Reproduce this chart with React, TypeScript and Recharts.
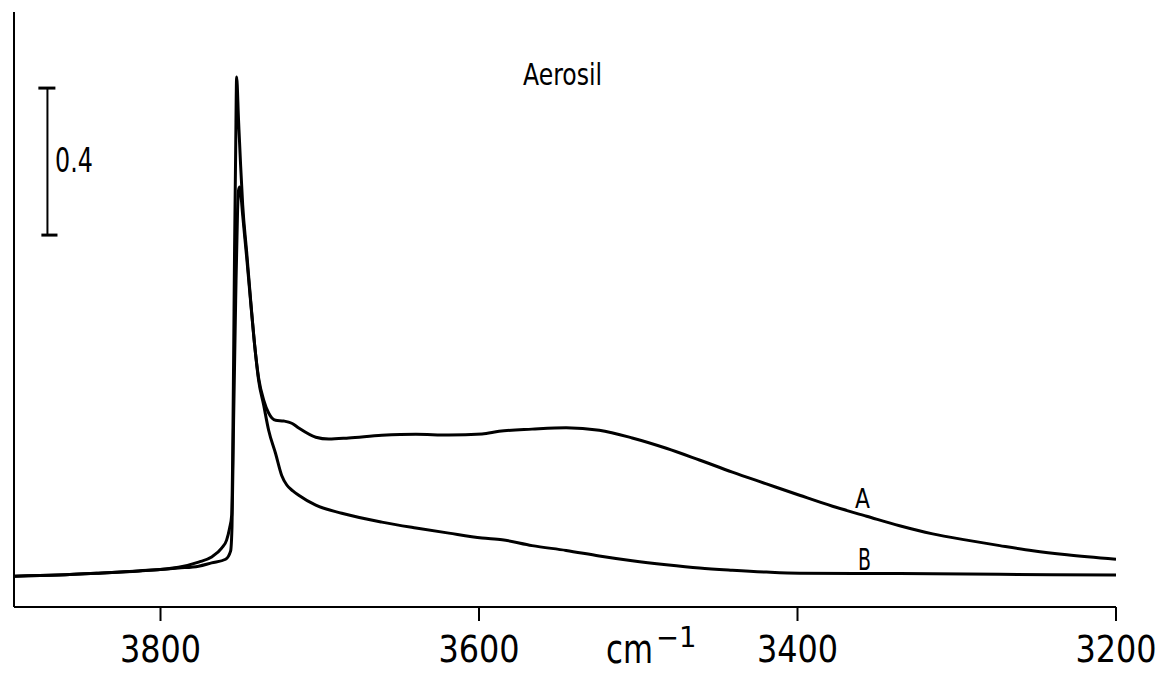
import { LineChart, Line, XAxis, YAxis, ReferenceLine } from 'recharts';

// wavenumber (cm-1) / absorbance readings, left to right
const wavenumbersA = [
  3891.8, 3864.2, 3839.0, 3813.8, 3788.7, 3776.1, 3767.9, 3761.6, 3758.5, 3756.6,
  3755.3, 3754.7, 3754.1, 3753.5, 3752.8, 3752.2, 3751.0, 3749.7, 3748.4, 3745.9,
  3743.4, 3740.9, 3738.4, 3735.2, 3732.1, 3727.7, 3722.6, 3717.6, 3713.2, 3702.5,
  3694.3, 3681.8, 3661.0, 3639.6, 3618.9, 3598.1, 3587.4, 3566.7, 3545.3, 3524.5,
  3503.8, 3482.4, 3461.6, 3440.9, 3419.5, 3398.7, 3378.0, 3356.6, 3335.9, 3315.1,
  3293.7, 3273.0, 3252.2, 3230.8, 3200.0,
];
const absorbanceA = [
  0.0, 0.003, 0.008, 0.014, 0.024, 0.038, 0.052, 0.076, 0.098, 0.131,
  0.166, 0.316, 0.588, 0.887, 1.159, 1.358, 1.241, 1.118, 1.01, 0.882,
  0.751, 0.629, 0.539, 0.479, 0.444, 0.424, 0.422, 0.416, 0.403, 0.378,
  0.373, 0.376, 0.383, 0.386, 0.384, 0.387, 0.394, 0.4, 0.404, 0.397,
  0.376, 0.348, 0.316, 0.283, 0.251, 0.22, 0.19, 0.163, 0.137, 0.115,
  0.098, 0.083, 0.069, 0.058, 0.046,
];

const wavenumbersB = [
  3891.8, 3864.2, 3839.0, 3813.8, 3788.7, 3776.1, 3767.9, 3759.1, 3756.0, 3755.1,
  3754.1, 3752.8, 3751.6, 3751.0, 3750.3, 3749.7, 3748.4, 3745.9, 3743.4, 3740.9,
  3738.4, 3735.2, 3732.1, 3727.7, 3723.9, 3720.7, 3716.9, 3713.2, 3702.5, 3686.2,
  3661.0, 3639.6, 3618.9, 3598.1, 3585.5, 3566.7, 3545.3, 3524.5, 3503.8, 3482.4,
  3461.6, 3440.9, 3419.5, 3398.7, 3335.9, 3273.0, 3200.0,
];
const absorbanceB = [
  0.0, 0.003, 0.008, 0.014, 0.022, 0.027, 0.036, 0.046, 0.068, 0.136,
  0.424, 0.751, 0.996, 1.05, 1.059, 1.045, 0.982, 0.868, 0.746, 0.629,
  0.533, 0.465, 0.397, 0.333, 0.274, 0.248, 0.232, 0.22, 0.193, 0.171,
  0.147, 0.131, 0.117, 0.104, 0.099, 0.083, 0.07, 0.055, 0.042, 0.031,
  0.022, 0.016, 0.011, 0.008, 0.007, 0.005, 0.003,
];

const xTicks = [3800, 3600, 3400, 3200];
const xDomain = [3200, 3892];
const yDomain = [-0.084, 1.535];

// 0.4 absorbance scale bar
const scaleBarX = 3871;
const scaleBarY = [0.928, 1.328];
const scaleCapTop = [3876.7, 3866.0];
const scaleCapBottom = [3874.8, 3864.7];

const FONT = '"DejaVu Sans", sans-serif';

const dataA = wavenumbersA.map((wn, i) => ({ wn, v: absorbanceA[i] }));
const dataB = wavenumbersB.map((wn, i) => ({ wn, v: absorbanceB[i] }));

// narrow plotter-style lettering: DejaVu squeezed horizontally
const Narrow = ({
  x,
  y,
  size,
  sx,
  anchor = 'start',
  children,
}: {
  x: number;
  y: number;
  size: number;
  sx: number;
  anchor?: 'start' | 'middle' | 'end';
  children: React.ReactNode;
}) => (
  <text
    transform={`translate(${x},${y}) scale(${sx},1)`}
    textAnchor={anchor}
    fontFamily={FONT}
    fontSize={size}
    fill="#000"
  >
    {children}
  </text>
);

const Tick = ({ x, y, payload }: { x: number; y: number; payload: { value: number } }) => (
  <Narrow x={x} y={y + 39} size={38} sx={0.84} anchor="middle">
    {payload.value}
  </Narrow>
);

export default function App() {
  return (
    <div style={{ position: 'absolute', left: 0, top: 0, width: 1161, height: 673, background: '#fff' }}>
      <LineChart width={1161} height={673} margin={{ top: 12, right: 45, bottom: 0, left: 14 }}>
        <XAxis
          type="number"
          dataKey="wn"
          domain={xDomain}
          reversed
          allowDataOverflow
          ticks={xTicks}
          tickSize={14}
          height={66}
          axisLine={{ stroke: '#000', strokeWidth: 2 }}
          tickLine={{ stroke: '#000', strokeWidth: 2 }}
          tick={Tick}
        />
        <YAxis type="number" domain={yDomain} allowDataOverflow hide />
        <ReferenceLine x={xDomain[1]} stroke="#000" strokeWidth={2} />
        <ReferenceLine
          segment={[{ x: scaleBarX, y: scaleBarY[0] }, { x: scaleBarX, y: scaleBarY[1] }]}
          stroke="#000"
          strokeWidth={2}
        />
        <ReferenceLine
          segment={[{ x: scaleCapTop[0], y: scaleBarY[1] }, { x: scaleCapTop[1], y: scaleBarY[1] }]}
          stroke="#000"
          strokeWidth={3}
        />
        <ReferenceLine
          segment={[{ x: scaleCapBottom[0], y: scaleBarY[0] }, { x: scaleCapBottom[1], y: scaleBarY[0] }]}
          stroke="#000"
          strokeWidth={3}
        />
        <Line data={dataA} dataKey="v" type="monotone" stroke="#000" strokeWidth={3} dot={false} isAnimationActive={false} />
        <Line data={dataB} dataKey="v" type="monotone" stroke="#000" strokeWidth={3} dot={false} isAnimationActive={false} />
      </LineChart>
      <svg
        width={1161}
        height={673}
        style={{ position: 'absolute', left: 0, top: 0, pointerEvents: 'none' }}
      >
        <Narrow x={523} y={85} size={31} sx={0.76}>Aerosil</Narrow>
        <Narrow x={55} y={172} size={34} sx={0.7}>0.4</Narrow>
        <Narrow x={855} y={508} size={27} sx={0.81}>A</Narrow>
        <Narrow x={858} y={570} size={31} sx={0.61}>B</Narrow>
        <Narrow x={606} y={663} size={40} sx={0.77}>cm</Narrow>
        <Narrow x={656} y={647} size={28} sx={0.98}>−1</Narrow>
      </svg>
    </div>
  );
}
